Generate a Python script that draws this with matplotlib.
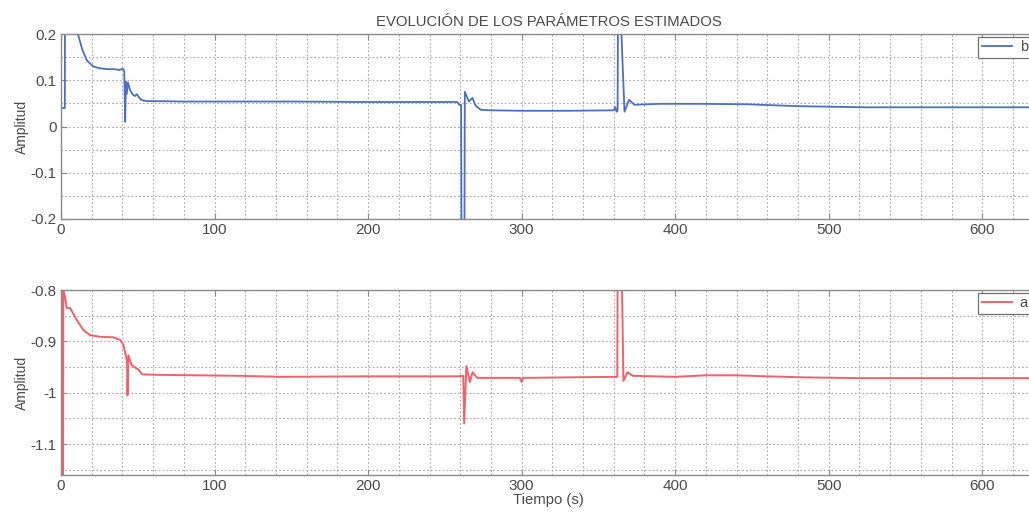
import matplotlib
matplotlib.use("Agg")
import matplotlib.pyplot as plt
from matplotlib.ticker import MultipleLocator

plt.rcParams['font.family'] = ['Liberation Sans', 'DejaVu Sans']

# Estimated parameter b (breakpoints of the recorded trace)
t_b = [0, 2.5, 2.7, 6, 11, 14, 17, 21, 25, 30, 35, 38, 40, 40.7, 41.2, 41.8,
       42.3, 42.8, 43.6, 45, 46.2, 47.2, 48.3, 49.4, 51, 52.6, 56, 80, 100,
       150, 200, 258, 259.3, 260.6, 261.0, 262.6, 263.0, 265.7, 268, 270,
       273.5, 280, 300, 330, 360, 361, 361.8, 362.5, 363.0, 364.6, 365.0,
       367.0, 370.0, 373.4, 390, 417, 447, 480, 523, 580, 635]
b_vals = [0.04, 0.04, 0.5, 0.32, 0.2, 0.165, 0.142, 0.13, 0.126, 0.124, 0.124,
          0.122, 0.125, 0.124, 0.12, 0.01, 0.097, 0.07, 0.095, 0.079, 0.072,
          0.068, 0.066, 0.07, 0.062, 0.057, 0.055, 0.054, 0.054, 0.054, 0.053,
          0.053, 0.047, 0.047, -0.45, -0.45, 0.075, 0.054, 0.062, 0.045, 0.036,
          0.035, 0.034, 0.034, 0.035, 0.042, 0.032, 0.034, 0.45, 0.45, 0.2,
          0.032, 0.058, 0.047, 0.049, 0.049, 0.048, 0.044, 0.0415, 0.0415, 0.0415]

# Estimated parameter a
t_a = [0, 0.5, 0.9, 1.2, 1.5, 2.6, 3.7, 5.9, 10.2, 14.6, 19, 25.5, 34, 38.5,
       40.7, 42.4, 43.0, 43.3, 43.9, 46, 48.3, 50.5, 52.7, 60, 117, 143, 200,
       258, 262.0, 262.6, 264, 266.3, 268, 271, 280, 299, 300, 301, 330, 360,
       362.3, 362.7, 365.0, 365.4, 366.3, 369.0, 372.5, 400, 420, 440, 460,
       484, 521, 580, 635]
a_vals = [-0.5, -1.5, -0.7, -1.5, -0.8, -0.813, -0.835, -0.835, -0.858, -0.878,
          -0.888, -0.891, -0.892, -0.897, -0.907, -0.93, -0.94, -1.005, -0.927,
          -0.946, -0.951, -0.955, -0.964, -0.965, -0.967, -0.969, -0.968,
          -0.968, -0.967, -1.06, -0.948, -0.979, -0.96, -0.971, -0.971,
          -0.971, -0.979, -0.971, -0.970, -0.969, -0.969, -0.6, -0.6, -0.8,
          -0.977, -0.96, -0.967, -0.969, -0.966, -0.966, -0.968, -0.970,
          -0.9715, -0.9715, -0.9715]

title_text = "EVOLUCIÓN DE LOS PARÁMETROS ESTIMADOS"
x_label = "Tiempo (s)"
y_label = "Amplitud"

blue = '#4d6fc2'
red = '#f2616a'
grid_c = '#a8a8a8'
text_c = '#4a4a4a'
spine_c = '#8a8a8a'

fig = plt.figure(figsize=(10.29, 5.13), dpi=100)
W, H = 1029, 513
x0, x1 = 61, 1036

def make_axes(top, bottom):
    return fig.add_axes([x0 / W, (H - bottom) / H, (x1 - x0) / W, (bottom - top) / H])

ax1 = make_axes(34, 219)
ax2 = make_axes(290, 475)

def style(ax, ylim, ymajor, yminor):
    ax.set_xlim(0, 635)
    ax.set_ylim(*ylim)
    ax.xaxis.set_major_locator(MultipleLocator(100))
    ax.xaxis.set_minor_locator(MultipleLocator(20))
    ax.yaxis.set_major_locator(MultipleLocator(ymajor))
    ax.yaxis.set_minor_locator(MultipleLocator(yminor))
    ax.grid(True, which='both', color=grid_c, linestyle=(0, (1.5, 2)), linewidth=0.8)
    ax.tick_params(which='major', direction='in', length=4, color=spine_c,
                   labelcolor=text_c, labelsize=11, top=True, right=True, pad=3)
    ax.tick_params(which='minor', length=0)
    for s in ax.spines.values():
        s.set_color(spine_c)
        s.set_linewidth(1.0)
    ax.set_ylabel(y_label, fontsize=10, color=text_c, labelpad=1)
    ax.set_axisbelow(True)

style(ax1, (-0.2, 0.2), 0.1, 0.05)
style(ax2, (-1.16, -0.8), 0.1, 0.05)

ax1.set_yticks([-0.2, -0.1, 0, 0.1, 0.2])
ax1.set_yticklabels(['-0.2', '-0.1', '0', '0.1', '0.2'])
ax2.set_yticks([-1.1, -1.0, -0.9, -0.8])
ax2.set_yticklabels(['-1.1', '-1', '-0.9', '-0.8'])

ax1.plot(t_b, b_vals, color=blue, linewidth=1.3, label='b')
ax2.plot(t_a, a_vals, color=red, linewidth=1.4, label='a')

ax1.set_title(title_text, fontsize=10.7, color=text_c, pad=6)
ax2.set_xlabel(x_label, fontsize=10.7, color=text_c, labelpad=0)

for ax in (ax1, ax2):
    leg = ax.legend(loc='upper left', bbox_to_anchor=(0.9405, 0.985), fontsize=10.5,
                    frameon=True, fancybox=False, framealpha=1, edgecolor='#707070',
                    handlelength=2.1, handletextpad=0.5, borderpad=0.25,
                    borderaxespad=0)
    for txt in leg.get_texts():
        txt.set_color(text_c)
    leg.get_frame().set_linewidth(0.9)

fig.savefig('out.png', dpi=100, facecolor='white')
